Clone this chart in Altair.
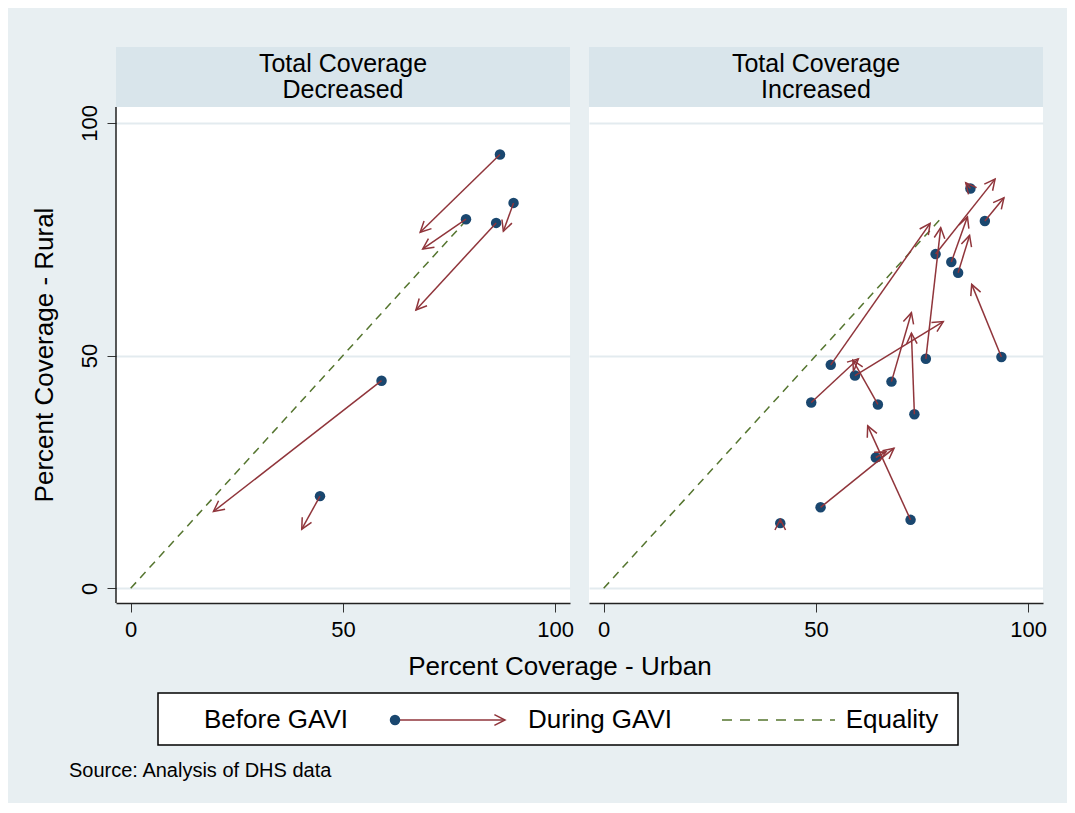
import math
import altair as alt
import pandas as pd

# ---------------- data ----------------
# Panel 1: Total Coverage Decreased
dec_before_urban = [87.0, 79.0, 86.1, 90.2, 59.1, 44.6]
dec_before_rural = [93.2, 79.3, 78.5, 82.8, 44.6, 19.8]
dec_during_urban = [68.2, 68.8, 67.2, 87.8, 19.5, 40.3]
dec_during_rural = [76.5, 72.9, 59.8, 76.7, 16.5, 12.7]

# Panel 2: Total Coverage Increased
inc_before_urban = [86.4, 89.8, 78.2, 81.9, 83.5, 93.7, 75.9, 53.5, 59.2, 67.8, 73.2, 48.9, 64.6, 64.1, 51.1, 72.3, 41.6]
inc_before_rural = [85.9, 78.9, 71.8, 70.1, 67.8, 49.7, 49.3, 48.0, 45.7, 44.4, 37.4, 39.9, 39.5, 28.1, 17.4, 14.7, 14.0]
inc_during_urban = [85.3, 94.3, 92.2, 85.7, 86.2, 86.7, 79.4, 76.9, 80.0, 72.5, 72.5, 60.0, 58.7, 66.5, 68.4, 62.2, 41.6]
inc_during_rural = [87.1, 83.9, 87.9, 79.8, 75.8, 65.3, 77.5, 78.4, 57.3, 59.2, 54.8, 49.3, 49.0, 29.3, 30.1, 34.9, 14.8]

# equality line extents
eq_end = [79, 80]

panel_titles = [["Total Coverage", "Decreased"], ["Total Coverage", "Increased"]]
tick_values = [0, 50, 100]
legend_labels = ["Before GAVI", "During GAVI", "Equality"]
source_text = "Source: Analysis of DHS data"
x_title = "Percent Coverage - Urban"
y_title = "Percent Coverage - Rural"

# ---------------- styling ----------------
BG = "#e8eff2"
STRIP = "#d9e5eb"
GRID = "#e3ebef"
NAVY = "#1a476f"
MAROON = "#90353b"
GREEN = "#55752f"
FONT = "Liberation Sans"

W = 454          # plot width
PH = 496         # plot-region height
SH = 60          # strip height
H = PH + SH      # panel height (strip + plot)
XDOM = [-3.46, 103.5]
Y_LO, Y_HI = -3.16, 103.4
KX = W / (XDOM[1] - XDOM[0])
KY = PH / (Y_HI - Y_LO)
YDOM = [Y_LO, Y_HI + SH / KY]   # extend upward so the strip sits inside the panel

HEAD = "M -0.5 1 L 0 0 L 0.5 1"
HEAD_SIZE = 450


def make_df(bx, by, ex, ey):
    df = pd.DataFrame({"bx": bx, "by": by, "ex": ex, "ey": ey})
    df["angle"] = [
        math.degrees(math.atan2((x2 - x1) * KX, (y2 - y1) * KY)) % 360
        for x1, y1, x2, y2 in zip(bx, by, ex, ey)
    ]
    return df


def panel(df, eq_max, title_lines, first):
    xsc = alt.Scale(domain=XDOM, nice=False, zero=False)
    ysc = alt.Scale(domain=YDOM, nice=False, zero=False)
    xaxis = alt.Axis(values=tick_values, grid=False, title=None, tickSize=9,
                     tickColor="#333", domainColor="#222", domainWidth=1.5,
                     labelFontSize=22, labelFont=FONT, labelColor="#000",
                     labelPadding=7, labelFlush=False)
    if first:
        yaxis = alt.Axis(values=tick_values, grid=True, gridColor=GRID, gridWidth=2,
                         title=None, domain=False,
                         tickSize=9, tickColor="#333",
                         labelFontSize=22, labelFont=FONT, labelColor="#000",
                         labelAngle=270, labelAlign="center", labelBaseline="bottom",
                         labelPadding=6, labelFlush=False)
    else:
        yaxis = alt.Axis(values=tick_values, grid=True, gridColor=GRID, gridWidth=2,
                         title=None, labels=False, ticks=False, domain=False)

    one = pd.DataFrame({"k": [0]})
    c = alt.Chart(one)

    eq = pd.DataFrame({"u": [0, eq_max], "r": [0, eq_max]})
    eq_line = alt.Chart(eq).mark_line(color=GREEN, strokeDash=[8, 6], strokeWidth=1.5).encode(
        x=alt.X("u:Q", scale=xsc, axis=xaxis),
        y=alt.Y("r:Q", scale=ysc, axis=yaxis),
    )
    strip_bg = c.mark_rect(fill=STRIP).encode(
        x=alt.value(0), x2=alt.value(W), y=alt.value(0), y2=alt.value(SH))
    stxt = dict(font=FONT, fontSize=25, color="#000", baseline="middle", align="center")
    strip_t1 = c.mark_text(**stxt).encode(
        x=alt.value(W / 2), y=alt.value(17), text=alt.value(title_lines[0]))
    strip_t2 = c.mark_text(**stxt).encode(
        x=alt.value(W / 2), y=alt.value(43), text=alt.value(title_lines[1]))

    base = alt.Chart(df)
    pts = base.mark_circle(color=NAVY, opacity=1, size=110).encode(
        x=alt.X("bx:Q", scale=xsc), y=alt.Y("by:Q", scale=ysc)
    )
    rules = base.mark_rule(color=MAROON, strokeWidth=1.5).encode(
        x=alt.X("bx:Q", scale=xsc), y=alt.Y("by:Q", scale=ysc),
        x2="ex:Q", y2="ey:Q",
    )
    heads = base.mark_point(shape=HEAD, filled=False, color=MAROON, opacity=1,
                            strokeWidth=1.5, size=HEAD_SIZE).encode(
        x=alt.X("ex:Q", scale=xsc), y=alt.Y("ey:Q", scale=ysc),
        angle=alt.Angle("angle:Q", scale=None),
    )
    layers = [eq_line, strip_bg, strip_t1, strip_t2, pts, rules, heads]

    if first:
        txt = dict(font=FONT, fontSize=26, color="#000", baseline="middle")
        LY = 613 + SH
        layers += [
            # y axis line (below the strip only)
            c.mark_rule(color="#222", strokeWidth=1.5).encode(
                x=alt.value(0), y=alt.value(SH), y2=alt.value(H)),
            # y axis title
            c.mark_text(**txt, align="center", angle=270).encode(
                x=alt.value(-71), y=alt.value(SH + PH / 2), text=alt.value(y_title)),
            # x axis title
            c.mark_text(**txt, align="center").encode(
                x=alt.value(444), y=alt.value(620), text=alt.value(x_title)),
            # legend box and content
            c.mark_rect(fill="white", stroke="#000", strokeWidth=1.5).encode(
                x=alt.value(42), x2=alt.value(842), y=alt.value(646), y2=alt.value(698)),
            c.mark_text(**txt, align="center").encode(
                x=alt.value(160), y=alt.value(LY), text=alt.value(legend_labels[0])),
            c.mark_rule(color=MAROON, strokeWidth=1.5).encode(
                x=alt.value(279), x2=alt.value(389), y=alt.value(LY)),
            c.mark_circle(color=NAVY, opacity=1, size=110).encode(
                x=alt.value(279), y=alt.value(LY)),
            c.mark_point(shape=HEAD, filled=False, color=MAROON, opacity=1,
                         strokeWidth=1.5, size=HEAD_SIZE).encode(
                x=alt.value(389), y=alt.value(LY), angle=alt.value(90)),
            c.mark_text(**txt, align="center").encode(
                x=alt.value(484), y=alt.value(LY), text=alt.value(legend_labels[1])),
            c.mark_rule(color=GREEN, strokeWidth=1.5, strokeDash=[10, 8]).encode(
                x=alt.value(606), x2=alt.value(719), y=alt.value(LY)),
            c.mark_text(**txt, align="center").encode(
                x=alt.value(776), y=alt.value(LY), text=alt.value(legend_labels[2])),
            # source note
            c.mark_text(font=FONT, fontSize=20, color="#000", baseline="middle", align="left").encode(
                x=alt.value(-47), y=alt.value(724), text=alt.value(source_text)),
        ]

    return alt.layer(*layers).properties(
        width=W, height=H, view=alt.ViewBackground(fill="white", stroke=None)
    )


left = panel(make_df(dec_before_urban, dec_before_rural, dec_during_urban, dec_during_rural),
             eq_end[0], panel_titles[0], True)
right = panel(make_df(inc_before_urban, inc_before_rural, inc_during_urban, inc_during_rural),
              eq_end[1], panel_titles[1], False)

chart = alt.hconcat(left, right, spacing=19, bounds="flush").properties(
    background=BG,
    padding={"left": 24, "top": 39, "right": 20, "bottom": 22},
).configure_view(stroke=None)

chart.save("out.html", embed_options={"renderer": "svg", "actions": False})
